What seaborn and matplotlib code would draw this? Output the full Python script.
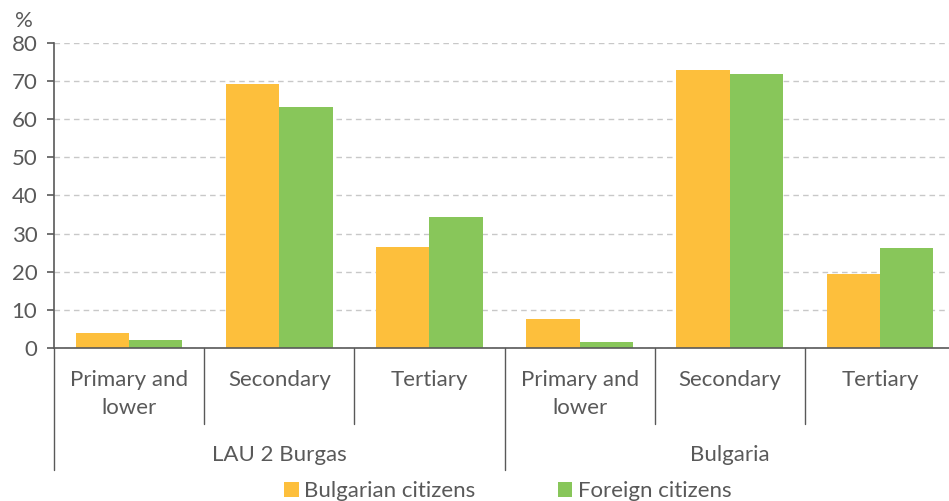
import pandas as pd
import seaborn as sns
import matplotlib.pyplot as plt
from matplotlib.patches import Patch
import matplotlib.transforms as mtransforms

# data
regions = ["LAU 2 Burgas", "Bulgaria"]
levels = ["Primary and\nlower", "Secondary", "Tertiary"]
bulgarian = [4.0, 69.2, 26.4, 7.5, 72.8, 19.4]
foreign = [2.2, 63.1, 34.3, 1.7, 71.8, 26.2]
series = ["Bulgarian citizens", "Foreign citizens"]
colors = ["#FDBF3C", "#88C65A"]

cats = [r + "|" + l for r in regions for l in levels]
df = pd.DataFrame({
    "cat": cats * 2,
    "value": bulgarian + foreign,
    "who": [series[0]] * 6 + [series[1]] * 6,
})

sns.set_style("white")
plt.rcParams["font.family"] = ["Lato", "DejaVu Sans"]
txt = "#595959"
fs = 16

fig = plt.figure(figsize=(9.49, 5.01), dpi=100)
W, H = 949, 501
ax = fig.add_axes([54 / W, 1 - 348 / H, 1 - 54 / W, (348 - 42.7) / H])

sns.barplot(data=df, x="cat", y="value", hue="who", order=cats,
            hue_order=series, palette=colors, width=0.71, saturation=1,
            edgecolor="none", legend=False, ax=ax)

ax.set_ylim(0, 80)
ax.set_xlim(-0.5, 5.46)
ax.set_yticks(range(0, 81, 10))
ax.yaxis.grid(True, color="#C8C8C8", linestyle=(0, (4, 3)), linewidth=1)
ax.set_axisbelow(True)
ax.set_xlabel("")
ax.set_ylabel("")
ax.set_xticks([])
for s in ["top", "right"]:
    ax.spines[s].set_visible(False)
for s in ["left", "bottom"]:
    ax.spines[s].set_color(txt)
    ax.spines[s].set_linewidth(1.2)
ax.tick_params(axis="y", left=True, length=5, width=1.2, color=txt,
               labelsize=fs, labelcolor=txt, pad=7)

# category separators below the axis
px = lambda p: -(p - 348) / (348 - 42.7)
trans = mtransforms.blended_transform_factory(ax.transData, ax.transAxes)
for x in [0.5, 1.5, 3.5, 4.5]:
    ax.plot([x, x], [0, px(424)], transform=trans, color=txt, lw=1,
            clip_on=False)
for x in [-0.5, 2.5]:
    ax.plot([x, x], [0, px(470)], transform=trans, color=txt, lw=1,
            clip_on=False)

for i, c in enumerate(cats):
    lab = c.split("|")[1]
    if "\n" in lab:
        ax.text(i, px(394), lab, transform=trans, ha="center",
                va="center", fontsize=fs, color=txt, linespacing=1.45)
    else:
        ax.text(i, px(380), lab, transform=trans, ha="center",
                va="center", fontsize=fs, color=txt)
for j, r in enumerate(regions):
    ax.text(j * 3 + 1, px(455), r, transform=trans, ha="center",
            va="center", fontsize=fs, color=txt)

fig.text(24 / W, 1 - 21 / H, "%", ha="center", va="center", fontsize=fs,
         color=txt)

handles = [Patch(facecolor=c, edgecolor="none") for c in colors]
fig.legend(handles, series, loc="center", bbox_to_anchor=(508 / W, 1 - 491 / H),
           ncol=2, frameon=False, fontsize=fs, handlelength=0.65,
           handleheight=0.65, handletextpad=0.25, columnspacing=3.7,
           labelcolor=txt, borderpad=0)

fig.savefig("out.png", dpi=100)
